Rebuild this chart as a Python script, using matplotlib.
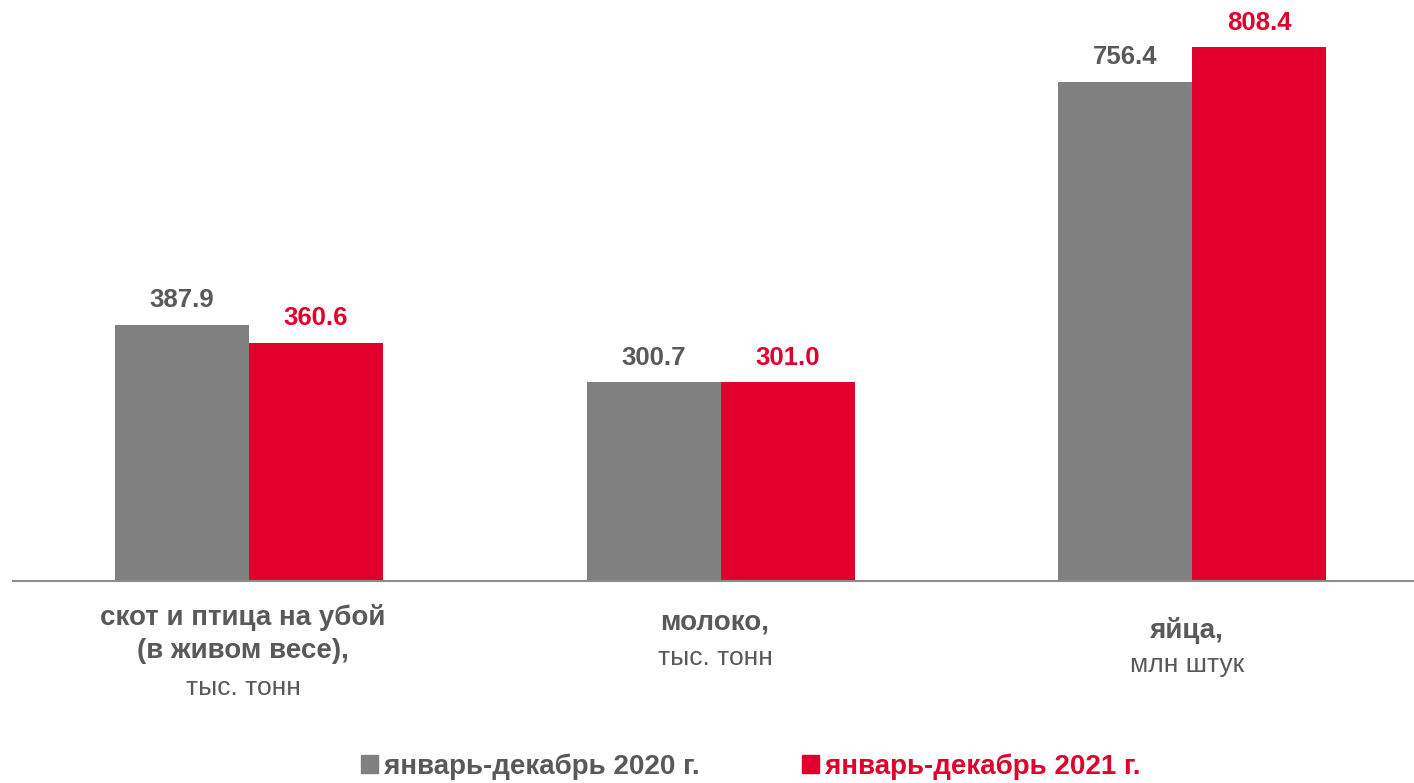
import matplotlib.pyplot as plt
from matplotlib.patches import Patch
import numpy as np

plt.rcParams['font.family'] = ['Liberation Sans', 'DejaVu Sans']

# data
cat_main = ['скот и птица на убой\n(в живом весе),', 'молоко,', 'яйца,']
cat_unit = ['тыс. тонн', 'тыс. тонн', 'млн штук']
vals_2020 = [387.9, 300.7, 756.4]
vals_2021 = [360.6, 301.0, 808.4]
labels_2020 = ['387.9', '300.7', '756.4']
labels_2021 = ['360.6', '301.0', '808.4']
series_names = ['январь-декабрь 2020 г.', 'январь-декабрь 2021 г.']

GRAY = '#808080'
RED = '#E0002B'
TXT = '#595959'

fig = plt.figure(figsize=(14.14, 7.83), dpi=100)
ax = fig.add_axes([0.0092, 0.258, 0.9908, 0.742])

x = np.arange(len(cat_main))
w = 0.284
b1 = ax.bar(x - w / 2, vals_2020, w, color=GRAY)
b2 = ax.bar(x + w / 2, vals_2021, w, color=RED)

for rect, lab in zip(b1, labels_2020):
    ax.annotate(lab, (rect.get_x() + rect.get_width() / 2, rect.get_height()),
                xytext=(0, 9), textcoords='offset points', ha='center', va='bottom',
                fontsize=18.5, fontweight='bold', color=TXT)
for rect, lab in zip(b2, labels_2021):
    ax.annotate(lab, (rect.get_x() + rect.get_width() / 2, rect.get_height()),
                xytext=(0, 9), textcoords='offset points', ha='center', va='bottom',
                fontsize=18.5, fontweight='bold', color=RED)

ax.set_xlim(-0.5, 2.47)
ax.set_ylim(0, 880)
for s in ['top', 'right', 'left']:
    ax.spines[s].set_visible(False)
ax.spines['bottom'].set_color('#8c8c8c')
ax.spines['bottom'].set_linewidth(1.5)
ax.set_xticks([])
ax.set_yticks([])

# category labels (positions in figure pixels from top)
main_y = [634, 622, 631]
unit_y = [688, 658, 665]
for i in range(len(cat_main)):
    xf = (249 + 472 * i - 6) / 1414
    fig.text(xf, 1 - main_y[i] / 783, cat_main[i], ha='center', va='center',
             fontsize=20, fontweight='bold', color=TXT, linespacing=1.33)
    fig.text(xf, 1 - unit_y[i] / 783, cat_unit[i], ha='center', va='center',
             fontsize=19, color=TXT)

handles = [Patch(color=GRAY), Patch(color=RED)]
leg = fig.legend(handles, series_names, loc='center', bbox_to_anchor=(0.531, 0.021),
                 ncol=2, frameon=False, handlelength=0.6, handleheight=0.6,
                 handletextpad=0.22, columnspacing=3.7, borderpad=0,
                 prop={'family': ['Liberation Sans Narrow', 'Liberation Sans'],
                       'weight': 'bold', 'size': 20})
for t, c in zip(leg.get_texts(), [TXT, RED]):
    t.set_color(c)

fig.savefig('out.png', dpi=100)
